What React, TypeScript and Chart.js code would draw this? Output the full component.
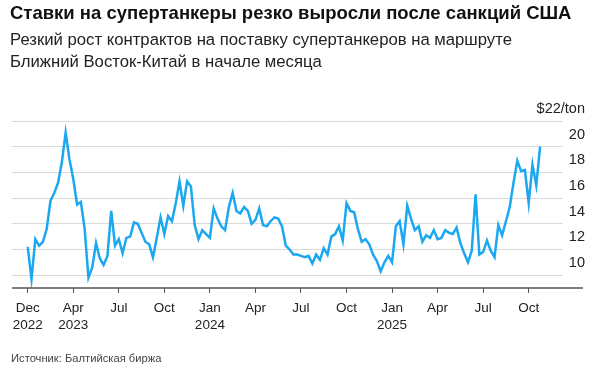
import React, { useEffect, useRef } from 'react';
import { Chart, registerables } from 'chart.js';

Chart.register(...registerables);

const title = 'Ставки на супертанкеры резко выросли после санкций США';
const subtitleLines = [
  'Резкий рост контрактов на поставку супертанкеров на маршруте',
  'Ближний Восток-Китай в начале месяца',
];
const sourceText = 'Источник: Балтийская биржа';

// x-axis tick labels (one tick every `samplesPerTick` samples)
const tickLabels: string[][] = [
  ['Dec', '2022'], ['Apr', '2023'], ['Jul'], ['Oct'],
  ['Jan', '2024'], ['Apr'], ['Jul'], ['Oct'],
  ['Jan', '2025'], ['Apr'], ['Jul'], ['Oct'],
];
const samplesPerTick = 12;

// VLCC rate, $/ton, sampled along the time axis
const rates: number[] = [
  12.2, 9.7, 12.8, 12.3, 12.6, 13.6, 15.8, 16.4, 17.2, 18.8,
  21.1, 19.0, 17.5, 15.5, 15.7, 13.6, 9.8, 10.6, 12.5, 11.3,
  10.8, 11.5, 15.0, 12.3, 12.8, 11.7, 12.9, 13.0, 14.1, 14.0,
  13.3, 12.6, 12.4, 11.4, 12.9, 14.5, 13.2, 14.6, 14.2, 15.6,
  17.3, 15.4, 17.3, 16.9, 13.9, 12.8, 13.5, 13.2, 12.9, 15.2,
  14.4, 13.8, 13.5, 15.3, 16.4, 15.0, 14.8, 15.3, 15.0, 14.0,
  14.3, 15.2, 13.9, 13.8, 14.2, 14.5, 14.4, 13.8, 12.3, 12.0,
  11.6, 11.6, 11.5, 11.4, 11.5, 10.9, 11.6, 11.2, 12.1, 11.6,
  13.0, 13.2, 13.8, 12.7, 15.6, 15.0, 14.9, 13.6, 12.6, 12.8,
  12.4, 11.6, 11.1, 10.3, 11.0, 11.5, 11.0, 13.8, 14.2, 12.4,
  15.4, 14.4, 13.5, 13.8, 12.6, 13.1, 12.9, 13.5, 12.8, 12.9,
  13.5, 13.3, 13.2, 13.7, 12.5, 11.7, 11.0, 11.9, 16.3, 11.6,
  11.8, 12.7, 11.9, 11.4, 13.9, 13.1, 14.2, 15.3, 17.2, 18.9,
  18.1, 18.2, 15.6, 18.6, 17.0, 20.0,
];

const yTicks = [10, 12, 14, 16, 18, 20, 22];
const yUnitLabel = '$22/ton';
const yMin = 9;
const yMax = 22;

const FONT = "'Liberation Sans', Arial, Helvetica, sans-serif";

const axisLinePlugin = {
  id: 'axisLineExt',
  afterDatasetsDraw(chart: any) {
    const { ctx, chartArea } = chart;
    ctx.save();
    ctx.strokeStyle = '#555555';
    ctx.lineWidth = 1.5;
    ctx.beginPath();
    ctx.moveTo(chartArea.left, chartArea.bottom);
    ctx.lineTo(chartArea.right + 20, chartArea.bottom);
    ctx.stroke();
    ctx.restore();
  },
};

export default function App() {
  const canvasRef = useRef<HTMLCanvasElement | null>(null);

  useEffect(() => {
    document.body.style.margin = '0';
    const canvas = canvasRef.current;
    if (!canvas) return;
    const xTickValues = tickLabels.map((_, k) => k * samplesPerTick);
    const chart = new Chart(canvas, {
      type: 'line',
      data: {
        datasets: [
          {
            data: rates.map((v, i) => ({ x: i, y: v })),
            borderColor: '#1ba8f0',
            borderWidth: 2.5,
            pointRadius: 0,
            tension: 0,
            fill: false,
          },
        ],
      },
      options: {
        animation: false,
        responsive: false,
        maintainAspectRatio: false,
        events: [],
        layout: { padding: { left: 12, top: 121, right: 15, bottom: 30 } },
        plugins: { legend: { display: false }, tooltip: { enabled: false } },
        scales: {
          x: {
            type: 'linear',
            min: -4.14,
            max: 141.04,
            border: { display: false },
            grid: {
              drawOnChartArea: false,
              drawTicks: true,
              tickLength: 5,
              tickColor: '#555555',
              tickWidth: 1,
            },
            afterBuildTicks: (axis: any) => {
              axis.ticks = xTickValues.map((v) => ({ value: v }));
            },
            afterFit: (axis: any) => {
              axis.height = 50;
            },
            ticks: {
              autoSkip: false,
              maxRotation: 0,
              padding: 7,
              color: '#222222',
              font: { family: FONT, size: 13.5, lineHeight: 1.25 },
              callback: (value: any) => {
                const idx = Math.round(Number(value) / samplesPerTick);
                return tickLabels[idx] ?? '';
              },
            },
          },
          y: {
            type: 'linear',
            position: 'right',
            min: yMin,
            max: yMax,
            border: { display: false },
            grid: {
              color: '#dadada',
              lineWidth: 1,
              drawTicks: false,
            },
            afterBuildTicks: (axis: any) => {
              axis.ticks = yTicks.map((v) => ({ value: v }));
            },
            afterFit: (axis: any) => {
              axis.width = 22;
            },
            ticks: {
              autoSkip: false,
              mirror: true,
              labelOffset: -12,
              padding: 22,
              color: '#222222',
              font: { family: FONT, size: 14.5 },
              callback: (value: any) =>
                Number(value) === yMax ? yUnitLabel : String(value),
            },
          },
        },
      },
      plugins: [axisLinePlugin],
    } as any);
    return () => chart.destroy();
  }, []);

  return (
    <div
      style={{
        position: 'relative',
        width: 600,
        height: 368,
        background: '#ffffff',
        overflow: 'hidden',
        fontFamily: FONT,
      }}
    >
      <canvas
        ref={canvasRef}
        width={600}
        height={368}
        style={{ position: 'absolute', left: 0, top: 0, width: 600, height: 368 }}
      />
      <div
        style={{
          position: 'absolute',
          left: 10,
          top: 2,
          fontSize: 18.5,
          lineHeight: '22px',
          fontWeight: 700,
          color: '#111111',
          whiteSpace: 'nowrap',
        }}
      >
        {title}
      </div>
      <div
        style={{
          position: 'absolute',
          left: 10,
          top: 28.5,
          fontSize: 16.7,
          lineHeight: '22px',
          color: '#222222',
          whiteSpace: 'nowrap',
        }}
      >
        {subtitleLines.map((l, i) => (
          <div key={i}>{l}</div>
        ))}
      </div>
      <div
        style={{
          position: 'absolute',
          left: 11,
          top: 351,
          fontSize: 11.2,
          lineHeight: '14px',
          color: '#444444',
          whiteSpace: 'nowrap',
        }}
      >
        {sourceText}
      </div>
    </div>
  );
}
